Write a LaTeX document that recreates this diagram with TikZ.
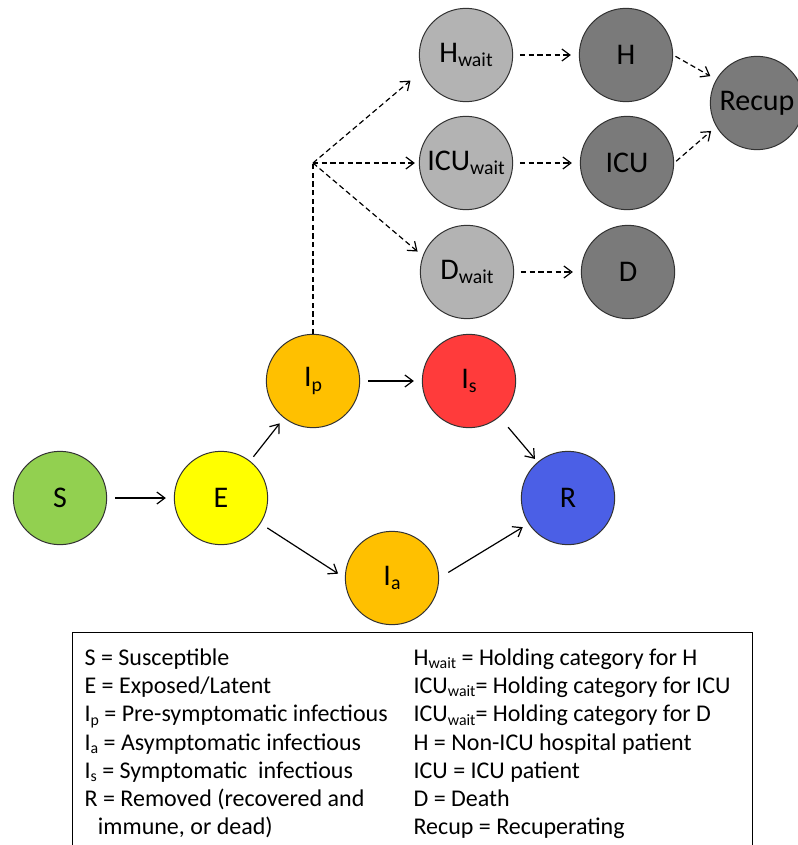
\documentclass[tikz,border=0pt]{standalone}
\usepackage{fontspec}
\setmainfont{Carlito}
\usetikzlibrary{arrows.meta}
\definecolor{sgreen}{HTML}{92D050}
\definecolor{eyellow}{HTML}{FFFF00}
\definecolor{iorange}{HTML}{FFC000}
\definecolor{sred}{HTML}{FF3B3B}
\definecolor{rblue}{HTML}{4B5FE6}
\definecolor{wgray}{HTML}{B3B3B3}
\definecolor{hgray}{HTML}{7A7A7A}
\newcommand{\lo}[1]{\raisebox{-0.3ex}{\scalebox{0.66}{#1}}}

\begin{document}
\begin{tikzpicture}[x=0.75pt, y=-0.75pt, >={Straight Barb[length=6pt, width=9pt]}, line width=0.9pt,
  st/.style={circle, draw=black!80, line width=0.75pt, minimum size=70pt, inner sep=0pt, font=\fontsize{22.5}{27}\selectfont},
  go/.style={->, shorten <=6pt, shorten >=6pt},
  wt/.style={->, dash pattern=on 4pt off 2.5pt},
  lg/.style={anchor=north west, align=left, inner sep=0pt, font=\fontsize{18}{21.2}\selectfont}]
  \useasboundingbox (0,0) rectangle (797,845);

  % infection chain
  \node[st, fill=sgreen] (S) at (60,498) {S};
  \node[st, fill=eyellow] (E) at (221,498) {E};
  \node[st, fill=iorange] (Ip) at (313,381) {I\lo{p}};
  \node[st, fill=sred] (Is) at (469,381) {I\lo{s}};
  \node[st, fill=iorange] (Ia) at (392,578) {I\lo{a}};
  \node[st, fill=rblue] (R) at (568,498) {R};

  % hospital part
  \node[st, fill=wgray] (Hw) at (466,55) {H\lo{wait}};
  \node[st, fill=wgray] (ICUw) at (466,163) {ICU\lo{wait}};
  \node[st, fill=wgray] (Dw) at (467,272) {D\lo{wait}};
  \node[st, fill=hgray] (H) at (626,55) {H};
  \node[st, fill=hgray] (ICU) at (627,163) {ICU};
  \node[st, fill=hgray] (D) at (628,272) {D};
  \node[st, fill=hgray] (Rec) at (757,103) {Recup};
  \coordinate (fork) at (313,163);

  \draw[go] (S) -- (E);
  \draw[go, shorten <=4pt, shorten >=5pt] (E) -- (Ip);
  \draw[go] (Ip) -- (Is);
  \draw[go] (E) -- (Ia.west);
  \draw[go, shorten <=8pt, shorten >=5pt] (Ia.east) -- (R.213);
  \draw[go, shorten <=10pt, shorten >=3pt] (Is) -- (R);

  \draw[dash pattern=on 4pt off 2.5pt] (Ip) -- (fork);
  \draw[wt, shorten >=11pt] (fork) -- (Hw.200);
  \draw[wt, shorten >=3pt] (fork) -- (ICUw);
  \draw[wt, shorten >=5pt] (fork) -- (Dw.160);
  \draw[wt, shorten <=5pt, shorten >=6pt] (Hw) -- (H);
  \draw[wt, shorten <=5pt, shorten >=6pt] (ICUw) -- (ICU);
  \draw[wt, shorten <=5pt, shorten >=6pt] (Dw) -- (D);
  \draw[wt, shorten <=2pt, shorten >=5pt] (H.east) -- (Rec.150);
  \draw[wt, shorten <=2pt, shorten >=5pt] (ICU.east) -- (Rec.210);

  % legend
  \draw[line width=0.75pt] (72,880) |- (752,632) -- (752,880);
  \node[lg] (keyl) at (84,648) {S = Susceptible\\
    E = Exposed/Latent\\
    I\lo{p} = Pre-symptomatic infectious\\
    I\lo{a} = Asymptomatic infectious\\
    I\lo{s} = Symptomatic~ infectious\\
    R = Removed (recovered and\\
    \hspace*{10pt}immune, or dead)};
  \node[lg] (keyr) at (413,648) {H\lo{wait} = Holding category for H\\
    ICU\lo{wait}= Holding category for ICU\\
    ICU\lo{wait}= Holding category for D\\
    H = Non-ICU hospital patient\\
    ICU = ICU patient\\
    D = Death\\
    Recup = Recuperating};
\end{tikzpicture}
\end{document}
